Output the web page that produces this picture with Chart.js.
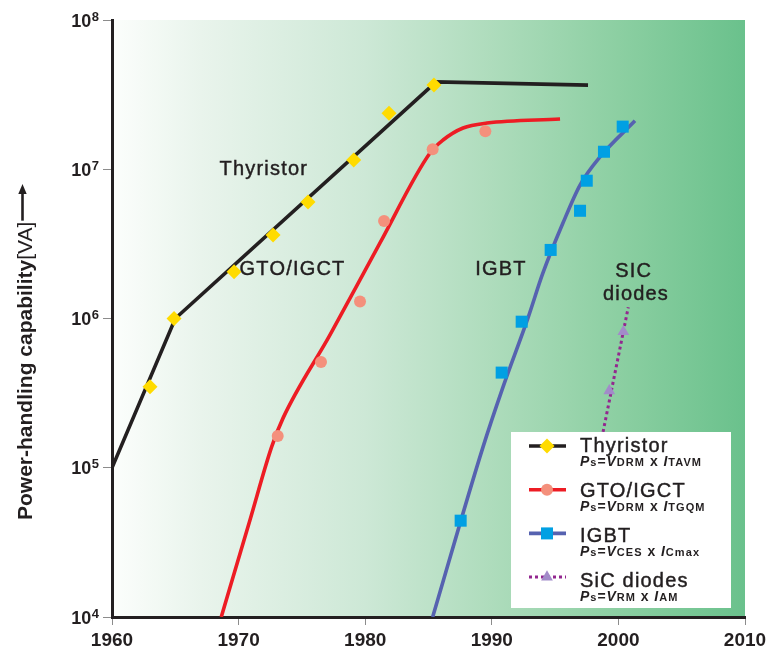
<!DOCTYPE html>
<html>
<head>
<meta charset="utf-8">
<script src="https://cdn.jsdelivr.net/npm/chart.js@4.4.1/dist/chart.umd.min.js"></script>
<style>
  html, body { margin: 0; padding: 0; background: #ffffff; }
  canvas { display: block; }
</style>
</head>
<body>
<canvas id="chart" width="771" height="652"></canvas>
<script>
// ---- axis ticks ----
const yearTicks = [1960, 1970, 1980, 1990, 2000, 2010];
const powerTicks = [1e4, 1e5, 1e6, 1e7, 1e8];

// ---- Thyristor: trend line and devices ----
const thyristorTrendYears = [1960, 1965, 1985.6, 1997.6];
const thyristorTrendPower = [1.0e5, 1.0e6, 3.85e7, 3.66e7];
const thyristorYears = [1963.0, 1964.9, 1969.64, 1972.72, 1975.48, 1979.09, 1981.88, 1985.43];
const thyristorPower = [3.49e5, 1.0e6, 2.06e6, 3.63e6, 6.04e6, 1.153e7, 2.37e7, 3.67e7];

// ---- GTO / IGCT ----
const gtoTrendYears = [1968.63, 1970.9, 1972.61, 1973.51, 1977.22, 1981.17, 1985.12, 1986.15, 1987.73, 1989.62, 1995.39];
const gtoTrendPower = [1.0e4, 4.47e4, 1.38e5, 2.15e5, 7.76e5, 3.21e6, 1.285e7, 1.57e7, 1.89e7, 2.04e7, 2.17e7];
const gtoYears = [1973.09, 1976.51, 1979.59, 1981.49, 1985.33, 1989.49];
const gtoPower = [1.63e5, 5.11e5, 1.30e6, 4.50e6, 1.36e7, 1.80e7];

// ---- IGBT ----
const igbtTrendYears = [1985.33, 1989.31, 1990.89, 1992.86, 1994.04, 1995.62, 1996.97, 1998.55, 2001.31];
const igbtTrendPower = [1.0e4, 1.38e5, 3.48e5, 1.01e6, 2.02e6, 4.36e6, 7.84e6, 1.21e7, 2.11e7];
const igbtYears = [1987.54, 1990.78, 1992.36, 1994.65, 1996.97, 1997.50, 1998.86, 2000.34];
const igbtPower = [4.42e4, 4.34e5, 9.52e5, 2.88e6, 5.27e6, 8.38e6, 1.31e7, 1.93e7];

// ---- SiC diodes ----
const sicTrendYears = [1998.6, 2000.78];
const sicTrendPower = [1.45e5, 1.19e6];
const sicYears = [1999.28, 2000.39];
const sicPower = [3.28e5, 8.16e5];

// ---- in-plot captions: text, year, power (baseline anchor) ----
const captions = [
  ['Thyristor', 1971.99, 9.15e6],
  ['GTO/IGCT', 1974.26, 1.96e6],
  ['IGBT', 1990.73, 1.96e6],
  ['SIC', 2001.21, 1.905e6],
  ['diodes', 2001.39, 1.33e6]
];

const INK = '#231f20';
const C = {
  thy: INK, thyMark: '#ffdb00',
  gto: '#ed1c24', gtoMark: '#f4907c',
  igbt: '#5662b0', igbtMark: '#00a0e3',
  sic: '#93278f', sicMark: '#a28bc9'
};
const FONT = '"Liberation Sans", Arial, Helvetica, sans-serif';

const pts = (xs, ys) => xs.map((x, i) => ({ x: x, y: ys[i] }));

function trend(label, xs, ys, color, extra) {
  return Object.assign({
    label: label, data: pts(xs, ys), borderColor: color, borderWidth: 3.6,
    pointRadius: 0, fill: false, tension: 0, order: 2
  }, extra || {});
}
function marks(label, xs, ys, color, style, radius) {
  return {
    label: label, data: pts(xs, ys), showLine: false, pointStyle: style,
    pointRadius: radius, pointBackgroundColor: color, pointBorderWidth: 0,
    pointBorderColor: color, order: 1
  };
}

// legend formula runs: [text, kind] with kind m = main, i = main italic, s = small
const legendRows = [
  { name: 'Thyristor', line: C.thy, mark: 'diamond', markColor: C.thyMark,
    formula: [['P','i'],['s','s'],['=','m'],['V','i'],['DRM','s'],[' x ','m'],['I','i'],['TAVM','s']] },
  { name: 'GTO/IGCT', line: C.gto, mark: 'circle', markColor: C.gtoMark,
    formula: [['P','i'],['s','s'],['=','m'],['V','i'],['DRM','s'],[' x ','m'],['I','i'],['TGQM','s']] },
  { name: 'IGBT', line: C.igbt, mark: 'square', markColor: C.igbtMark,
    formula: [['P','i'],['s','s'],['=','m'],['V','i'],['CES','s'],[' x ','m'],['I','i'],['Cmax','s']] },
  { name: 'SiC diodes', line: C.sic, mark: 'triangle', markColor: C.sicMark, dotted: true,
    formula: [['P','i'],['s','s'],['=','m'],['V','i'],['RM','s'],[' x ','m'],['I','i'],['AM','s']] }
];

function drawMarker(ctx, kind, x, y, color) {
  ctx.fillStyle = color;
  ctx.beginPath();
  if (kind === 'diamond') {
    const r = 7.5;
    ctx.moveTo(x, y - r); ctx.lineTo(x + r, y); ctx.lineTo(x, y + r); ctx.lineTo(x - r, y);
  } else if (kind === 'circle') {
    ctx.arc(x, y, 6, 0, Math.PI * 2);
  } else if (kind === 'square') {
    ctx.rect(x - 6, y - 6, 12, 12);
  } else {
    const r = 6.8;
    ctx.moveTo(x, y - r);
    ctx.lineTo(x + r * Math.sin(Math.PI * 2 / 3), y - r * Math.cos(Math.PI * 2 / 3));
    ctx.lineTo(x - r * Math.sin(Math.PI * 2 / 3), y - r * Math.cos(Math.PI * 2 / 3));
  }
  ctx.closePath();
  ctx.fill();
}

// medium-weight caption text: regular face with a hairline outline
function captionText(ctx, t, x, y) {
  ctx.fillText(t, x, y);
  ctx.strokeText(t, x, y);
}

const decor = {
  id: 'decor',
  beforeDraw(chart) {
    const { ctx, chartArea: a } = chart;
    ctx.save();
    ctx.fillStyle = '#ffffff';
    ctx.fillRect(0, 0, chart.width, chart.height);
    const g = ctx.createLinearGradient(a.left, 0, a.right, 0);
    g.addColorStop(0.00, '#fcfefc');
    g.addColorStop(0.14, '#e9f4ec');
    g.addColorStop(0.40, '#cde8d6');
    g.addColorStop(0.60, '#aedcbc');
    g.addColorStop(0.80, '#8ccfa2');
    g.addColorStop(1.00, '#6ac18c');
    ctx.fillStyle = g;
    ctx.fillRect(a.left, a.top, a.right - a.left, a.bottom - a.top);
    ctx.restore();
  },
  afterDatasetsDraw(chart) {
    const { ctx } = chart;
    const xs = chart.scales.x, ys = chart.scales.y;
    ctx.save();
    // captions inside the plot
    ctx.fillStyle = INK;
    ctx.strokeStyle = INK;
    ctx.lineWidth = 0.45;
    ctx.font = '20px ' + FONT;
    ctx.letterSpacing = '1.2px';
    ctx.textAlign = 'center';
    ctx.textBaseline = 'alphabetic';
    captions.forEach(([t, yr, p]) => {
      captionText(ctx, t, xs.getPixelForValue(yr), ys.getPixelForValue(p));
    });

    // legend box
    const bx = 511, by = 432, bw = 220, bh = 176;
    ctx.fillStyle = '#ffffff';
    ctx.fillRect(bx, by, bw, bh);
    ctx.textAlign = 'left';
    legendRows.forEach((row, i) => {
      const ly = 446 + i * 43.7;
      ctx.save();
      ctx.strokeStyle = row.line;
      ctx.lineWidth = row.dotted ? 3 : 3.6;
      if (row.dotted) ctx.setLineDash([3, 3]);
      ctx.beginPath();
      ctx.moveTo(529, ly); ctx.lineTo(566, ly);
      ctx.stroke();
      ctx.restore();
      drawMarker(ctx, row.mark, 547, ly, row.markColor);

      ctx.fillStyle = INK;
      ctx.font = '20px ' + FONT;
      ctx.letterSpacing = '1.2px';
      captionText(ctx, row.name, 580, 452.3 + i * 44.8);

      let x = 580;
      const sy = 466 + i * 45;
      row.formula.forEach(([t, k]) => {
        if (k === 'i') { ctx.font = 'italic bold 14px ' + FONT; ctx.letterSpacing = '0.9px'; }
        else if (k === 'm') { ctx.font = 'bold 14px ' + FONT; ctx.letterSpacing = '0.9px'; }
        else { ctx.font = 'bold 11px ' + FONT; ctx.letterSpacing = '1.1px'; }
        ctx.fillText(t, x, sy);
        x += ctx.measureText(t).width;
      });
    });
    ctx.restore();
  },
  afterDraw(chart) {
    const { ctx } = chart;
    const ys = chart.scales.y;
    ctx.save();
    ctx.fillStyle = INK;
    ctx.letterSpacing = '0px';
    ctx.textAlign = 'left';
    ctx.textBaseline = 'alphabetic';
    // decade labels 10^n
    powerTicks.forEach(v => {
      const py = ys.getPixelForValue(v);
      const exp = String(Math.round(Math.log10(v)));
      ctx.font = 'bold 18px ' + FONT;
      const w10 = ctx.measureText('10').width;
      ctx.font = 'bold 13px ' + FONT;
      const we = ctx.measureText(exp).width;
      const x0 = 99 - w10 - we - 0.5;
      ctx.font = 'bold 18px ' + FONT;
      ctx.fillText('10', x0, py + 6.5);
      ctx.font = 'bold 13px ' + FONT;
      ctx.fillText(exp, x0 + w10 + 0.5, py + 0.5);
    });

    // rotated axis title with arrow
    ctx.translate(32, 520);
    ctx.rotate(-Math.PI / 2);
    ctx.font = 'bold 21px ' + FONT;
    ctx.fillText('Power-handling capability', 0, 0);
    let w = ctx.measureText('Power-handling capability').width;
    ctx.font = '21px ' + FONT;
    ctx.fillText('[VA]', w, 0);
    w += ctx.measureText('[VA]').width;
    const tip = 336, av = -9.5;
    ctx.strokeStyle = INK;
    ctx.lineWidth = 2.6;
    ctx.beginPath();
    ctx.moveTo(w + 1, av); ctx.lineTo(tip - 7, av);
    ctx.stroke();
    ctx.beginPath();
    ctx.moveTo(tip, av); ctx.lineTo(tip - 10, av - 4.2); ctx.lineTo(tip - 10, av + 4.2);
    ctx.closePath();
    ctx.fill();
    ctx.restore();
  }
};

new Chart(document.getElementById('chart'), {
  type: 'line',
  data: {
    datasets: [
      trend('Thyristor', thyristorTrendYears, thyristorTrendPower, C.thy),
      trend('GTO/IGCT', gtoTrendYears, gtoTrendPower, C.gto, { cubicInterpolationMode: 'monotone' }),
      trend('IGBT', igbtTrendYears, igbtTrendPower, C.igbt, { cubicInterpolationMode: 'monotone' }),
      trend('SiC diodes', sicTrendYears, sicTrendPower, C.sic, { borderDash: [3, 3], borderWidth: 3 }),
      marks('Thyristor devices', thyristorYears, thyristorPower, C.thyMark, 'rectRot', 7.5),
      marks('GTO/IGCT devices', gtoYears, gtoPower, C.gtoMark, 'circle', 6),
      marks('IGBT devices', igbtYears, igbtPower, C.igbtMark, 'rect', 8.5),
      marks('SiC diode devices', sicYears, sicPower, C.sicMark, 'triangle', 6.8)
    ]
  },
  options: {
    responsive: false,
    animation: false,
    events: [],
    layout: { padding: { left: 0, top: 20, right: 26, bottom: 0 } },
    plugins: { legend: { display: false }, tooltip: { enabled: false } },
    scales: {
      x: {
        type: 'linear', min: 1960, max: 2010,
        afterBuildTicks(s) { s.ticks = yearTicks.map(v => ({ value: v })); },
        afterFit(s) { s.height = 35; },
        ticks: {
          color: INK, padding: 4, maxRotation: 0, autoSkip: false,
          font: { family: FONT, size: 19, weight: 'bold' },
          callback: v => String(v)
        },
        grid: { drawOnChartArea: false, drawTicks: true, tickLength: 8, color: '#8c8c8c', lineWidth: 1 },
        border: { display: true, color: INK, width: 3 }
      },
      y: {
        type: 'logarithmic', min: 1e4, max: 1e8,
        afterBuildTicks(s) { s.ticks = powerTicks.map(v => ({ value: v })); },
        afterFit(s) { s.width = 112; },
        ticks: { display: false },
        grid: { drawOnChartArea: false, drawTicks: true, tickLength: 9, color: '#8c8c8c', lineWidth: 1 },
        border: { display: true, color: INK, width: 3 }
      }
    }
  },
  plugins: [decor]
});
</script>
</body>
</html>
